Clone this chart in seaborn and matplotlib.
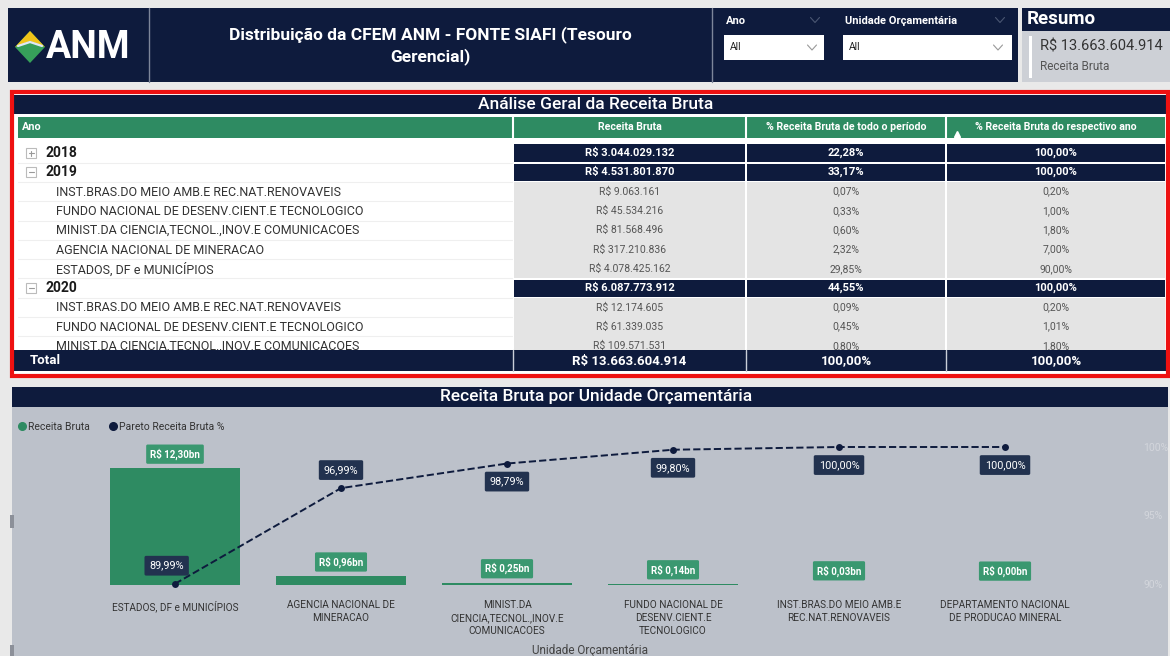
# Painel CFEM ANM - tabela de receita bruta e pareto por unidade orcamentaria

import numpy as np
import pandas as pd
import seaborn as sb
import matplotlib.pyplot as plt
from matplotlib.patches import Rectangle, Polygon

# ---- dados do grafico ----
unidades = ["ESTADOS, DF e MUNICÍPIOS", "AGENCIA NACIONAL DE MINERACAO",
            "MINIST.DA CIENCIA,TECNOL.,INOV.E COMUNICACOES",
            "FUNDO NACIONAL DE DESENV.CIENT.E TECNOLOGICO",
            "INST.BRAS.DO MEIO AMB.E REC.NAT.RENOVAVEIS",
            "DEPARTAMENTO NACIONAL DE PRODUCAO MINERAL"]
unidade_labels = ["ESTADOS, DF e MUNICÍPIOS", "AGENCIA NACIONAL DE\nMINERACAO",
                  "MINIST.DA\nCIENCIA,TECNOL.,INOV.E\nCOMUNICACOES",
                  "FUNDO NACIONAL DE\nDESENV.CIENT.E\nTECNOLOGICO",
                  "INST.BRAS.DO MEIO AMB.E\nREC.NAT.RENOVAVEIS",
                  "DEPARTAMENTO NACIONAL\nDE PRODUCAO MINERAL"]
receita_bn = [12.30, 0.96, 0.25, 0.14, 0.03, 0.00]
pareto_pct = [89.99, 96.99, 98.79, 99.80, 100.00, 100.00]

# ---- dados da tabela ----
tab_nome = ["2018", "2019",
            "INST.BRAS.DO MEIO AMB.E REC.NAT.RENOVAVEIS",
            "FUNDO NACIONAL DE DESENV.CIENT.E TECNOLOGICO",
            "MINIST.DA CIENCIA,TECNOL.,INOV.E COMUNICACOES",
            "AGENCIA NACIONAL DE MINERACAO",
            "ESTADOS, DF e MUNICÍPIOS",
            "2020",
            "INST.BRAS.DO MEIO AMB.E REC.NAT.RENOVAVEIS",
            "FUNDO NACIONAL DE DESENV.CIENT.E TECNOLOGICO",
            "MINIST.DA CIENCIA,TECNOL.,INOV.E COMUNICACOES"]
tab_receita = ["R$ 3.044.029.132", "R$ 4.531.801.870", "R$ 9.063.161", "R$ 45.534.216",
               "R$ 81.568.496", "R$ 317.210.836", "R$ 4.078.425.162", "R$ 6.087.773.912",
               "R$ 12.174.605", "R$ 61.339.035", "R$ 109.571.531"]
tab_pct_periodo = ["22,28%", "33,17%", "0,07%", "0,33%", "0,60%", "2,32%", "29,85%",
                   "44,55%", "0,09%", "0,45%", "0,80%"]
tab_pct_ano = ["100,00%", "100,00%", "0,20%", "1,00%", "1,80%", "7,00%", "90,00%",
               "100,00%", "0,20%", "1,01%", "1,80%"]
tab_tipo = ["ano+", "ano-", "item", "item", "item", "item", "item", "ano-", "item", "item", "item"]
tab_total = ["Total", "R$ 13.663.604.914", "100,00%", "100,00%"]
tab_colunas = ["Ano", "Receita Bruta", "% Receita Bruta de todo o período",
               "% Receita Bruta do respectivo ano"]

NAVY = "#0e1b3d"
NAVY_LBL = "#22324f"
GREEN = "#2e8b62"
GREEN_LBL = "#3a9870"
PAGE = "#e9e9e9"
CHART_BG = "#bcc1ca"
CELL_GRAY = "#e4e4e4"

sb.set_style("white")
plt.rcParams["font.family"] = ["Roboto", "DejaVu Sans"]

fig = plt.figure(figsize=(11.7, 6.56), dpi=100)
fig.patch.set_facecolor(PAGE)
cv = fig.add_axes([0, 0, 1, 1])
cv.set_xlim(0, 1170)
cv.set_ylim(656, 0)
cv.axis("off")


def rect(x0, y0, x1, y1, fc, **kw):
    cv.add_patch(Rectangle((x0, y0), x1 - x0, y1 - y0, fc=fc, ec="none", **kw))


def chevron(x, y, color, w=4.5):
    cv.plot([x - w, x, x + w], [y - 2.5, y + 2.5, y - 2.5], color=color, lw=0.8)


# ---- cabecalho ----
rect(8, 8, 1018, 82, NAVY)
cv.plot([149, 149], [8, 82], color="#7d869a", lw=1)
cv.plot([712, 712], [8, 82], color="#7d869a", lw=1)
# logo
cv.add_patch(Polygon([(15, 47), (30, 31), (45, 47), (30, 63)], fc="#36a05a", ec="none"))
cv.add_patch(Polygon([(15, 47), (30, 31), (45, 47), (30, 41)], fc="#f0c419", ec="none"))
cv.plot([18, 30, 42], [46, 42, 46], color="#dfe8f5", lw=1.6)
cv.text(46, 47, "ANM", color="white", fontsize=27, fontweight="bold", va="center", ha="left")
cv.text(430, 35, "Distribuição da CFEM ANM - FONTE SIAFI (Tesouro", color="white",
        fontsize=12.5, fontweight="bold", ha="center", va="center")
cv.text(430, 57, "Gerencial)", color="white", fontsize=12.5, fontweight="bold",
        ha="center", va="center")
# filtros
cv.text(726, 21, "Ano", color="white", fontsize=8, fontweight="bold", va="center")
chevron(815, 20, "#4a5672")
rect(724, 35, 824, 60, "white")
cv.text(730, 47.5, "All", color="#222", fontsize=7.5, va="center")
chevron(812, 47.5, "#999")
cv.text(845, 21, "Unidade Orçamentária", color="white", fontsize=8, fontweight="bold", va="center")
chevron(1000, 20, "#4a5672")
rect(843, 35, 1012, 60, "white")
cv.text(849, 47.5, "All", color="#222", fontsize=7.5, va="center")
chevron(998, 47.5, "#999")
# resumo
rect(1022, 8, 1170, 31, NAVY)
cv.text(1027, 19.5, "Resumo", color="white", fontsize=13.5, fontweight="bold", va="center")
rect(1022, 31, 1170, 82, "#cdd0d6")
rect(1029, 36, 1032, 78, "white")
cv.text(1040, 47, "R$ 13.663.604.914", color="#333", fontsize=10.5, va="center")
cv.text(1040, 67, "Receita Bruta", color="#555", fontsize=8.5, va="center")

# ---- tabela ----
rect(14, 94, 1166, 374, "white")
rect(14, 95, 1166, 114, NAVY)
cv.text(596, 104.5, "Análise Geral da Receita Bruta", color="white", fontsize=12.5,
        fontweight="medium", ha="center", va="center")
cols = [(18, 512), (514, 745), (747, 945), (947, 1165)]
rect(18, 117, 1165, 137.5, GREEN)
for x0, x1 in cols[1:]:
    cv.plot([x0 - 1, x0 - 1], [117, 137.5], color="white", lw=1.5)
cv.text(22, 127, tab_colunas[0], color="white", fontsize=7.8, fontweight="bold", va="center")
for (x0, x1), txt in zip(cols[1:], tab_colunas[1:]):
    cv.text((x0 + x1) / 2, 127, txt, color="white", fontsize=7.6, fontweight="bold",
            ha="center", va="center")
cv.plot(957, 134, marker="^", ms=4, color="white", zorder=5)

row_h = 19.3
for i, (nome, rec, pp, pa, tipo) in enumerate(zip(tab_nome, tab_receita, tab_pct_periodo,
                                                  tab_pct_ano, tab_tipo)):
    yc = 153 + row_h * i
    ano = tipo.startswith("ano")
    for x0, x1 in cols[1:]:
        if ano:
            rect(x0, yc - 8.6, x1, yc + 8.6, NAVY)
        else:
            rect(x0, yc - row_h / 2, x1, yc + row_h / 2, CELL_GRAY)
    cv.plot([18, 512], [yc + row_h / 2, yc + row_h / 2], color="#efefef", lw=0.8)
    if ano:
        cv.add_patch(Rectangle((26, yc - 5), 10, 10, fc="white", ec="#bbbbbb", lw=0.8))
        cv.plot([28.5, 33.5], [yc, yc], color="#999", lw=0.8)
        if tipo == "ano+":
            cv.plot([31, 31], [yc - 2.5, yc + 2.5], color="#999", lw=0.8)
        cv.text(46, yc, nome, color="#1a1a1a", fontsize=10, fontweight="bold", va="center")
    else:
        cv.text(56, yc + 0.5, nome, color="#333", fontsize=9, va="center")
    for (x0, x1), txt in zip(cols[1:], [rec, pp, pa]):
        cv.text((x0 + x1) / 2, yc, txt, ha="center", va="center",
                color="white" if ano else "#555",
                fontsize=8 if ano else 7.5, fontweight="bold" if ano else "normal")
for x0, x1 in cols[2:]:
    cv.plot([x0 - 1, x0 - 1], [163, 350], color="white", lw=1.2)

# linha total (por cima da ultima linha cortada)
rect(14, 349.5, 1166, 371, NAVY, zorder=6)
cv.text(30, 361, tab_total[0], color="white", fontsize=9.5, fontweight="bold", va="center",
        zorder=7)
for (x0, x1), txt in zip(cols[1:], tab_total[1:]):
    cv.plot([x0 - 1, x0 - 1], [350, 371], color="#c9ced8", lw=1, zorder=7)
    cv.text((x0 + x1) / 2, 361, txt, color="white", fontsize=9.5, fontweight="bold",
            ha="center", va="center", zorder=7)
cv.add_patch(Rectangle((12, 92), 1156, 284, fc="none", ec="#ee1111", lw=3, zorder=8))

# ---- painel do grafico ----
rect(12, 387, 1168, 407, NAVY)
cv.text(596, 397, "Receita Bruta por Unidade Orçamentária", color="white", fontsize=12.5,
        fontweight="medium", ha="center", va="center")
rect(12, 407, 1168, 656, CHART_BG)
rect(10, 515, 14, 528, "#8c9099")
rect(10, 645, 14, 656, "#8c9099")
cv.plot(22, 426, "o", ms=5.5, color=GREEN)
cv.text(28, 426.5, "Receita Bruta", color="#333", fontsize=7.5, va="center")
cv.plot(113, 426, "o", ms=5.5, color=NAVY)
cv.text(119, 426.5, "Pareto Receita Bruta %", color="#333", fontsize=7.5, va="center")

ax = fig.add_axes([92 / 1170, (656 - 585) / 656, 996 / 1170, 138 / 656])
ax.set_facecolor("none")
df = pd.DataFrame({"unidade": unidades, "receita": receita_bn, "pareto": pareto_pct})
sb.barplot(data=df, x="unidade", y="receita", color=GREEN, saturation=1, width=0.78,
           linewidth=0, ax=ax)
ax.set_ylim(0, max(receita_bn) * 1.18)
ax.set_xlim(-0.5, len(unidades) - 0.5)
ax.set_yticks([])
ax.set_ylabel("")
ax.set_xticks(range(len(unidades)))
ax.set_xticklabels(unidade_labels, fontsize=7.2, color="#333", linespacing=1.35)
ax.tick_params(axis="x", length=0, pad=11)
ax.set_xlabel("Unidade Orçamentária", fontsize=8.5, color="#444")
ax.xaxis.set_label_coords(0.5, -0.43)
sb.despine(ax=ax, left=True, bottom=True)

for i, v in enumerate(receita_bn):
    ax.annotate(f"R$ {v:.2f}bn".replace(".", ","), xy=(i, v), xytext=(0, 10),
                textcoords="offset points", ha="center", va="center", fontsize=7,
                fontweight="bold", color="white", annotation_clip=False,
                bbox=dict(boxstyle="round,pad=0.4,rounding_size=0.15", fc=GREEN_LBL, ec="none"))

ax2 = ax.twinx()
ax2.set_facecolor("none")
sb.lineplot(x=np.arange(len(pareto_pct)), y=pareto_pct, ax=ax2, color=NAVY, linestyle="--",
            linewidth=1.4, marker="o", markersize=5, markeredgewidth=0)
for ln in ax2.lines:
    ln.set_clip_on(False)
ax2.set_ylim(89.9, 100)
ax2.set_yticks([90, 95, 100])
ax2.set_yticklabels(["90%", "95%", "100%"], fontsize=7.5, color="#d3d6dc")
ax2.tick_params(axis="y", length=0, pad=40)
sb.despine(ax=ax2, left=True, bottom=True, right=True)

lado = [1, 1, -1, -1, -1, -1]
for i, (p, s) in enumerate(zip(pareto_pct, lado)):
    ax2.annotate(f"{p:.2f}%".replace(".", ","), xy=(i, p), xytext=(-6 if i == 0 else 0, 13 * s),
                 textcoords="offset points", ha="center", va="center", fontsize=7.8,
                 color="white", annotation_clip=False,
                 bbox=dict(boxstyle="round,pad=0.45,rounding_size=0.15", fc=NAVY_LBL, ec="none"))

plt.savefig("out.png", dpi=100, facecolor=fig.get_facecolor())
